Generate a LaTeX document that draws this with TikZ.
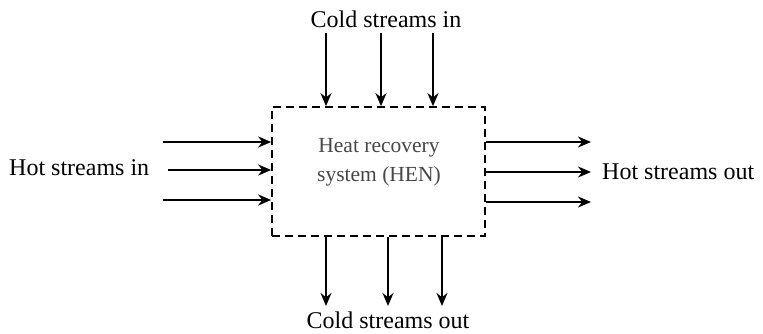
\documentclass[tikz,border=0pt]{standalone}
\usepackage{fontspec}
\setmainfont{Liberation Serif}
\usetikzlibrary{arrows.meta}
\begin{document}
\begin{tikzpicture}[x=1pt,y=-1pt,
  lbl/.style={font=\fontsize{24}{28}\selectfont, inner sep=0pt},
  arr/.style={line width=2.6pt,-{Stealth[length=13pt,width=11pt]}},
  hbox/.style={draw, dashed, dash pattern=on 8pt off 5pt, line width=1.7pt, minimum width=213pt, minimum height=129pt, inner sep=0pt},
  htxt/.style={align=center, text=black!72, font=\fontsize{21.5}{29}\selectfont, inner sep=0pt}]
\useasboundingbox (0,0) rectangle (763,334);
\node[hbox] (hen) at (378.5,171.5) {};
\node[htxt] (hentxt) at (379,162) {Heat recovery\\system (HEN)};
% labels
\node[lbl] (cin) at (386,19) {Cold streams in};
\node[lbl] (cout) at (388,320) {Cold streams out};
\node[lbl, anchor=west] (hin) at (9,168) {Hot streams in};
\node[lbl, anchor=west] (hout) at (602,172) {Hot streams out};
% start/end coordinates
\coordinate (c1) at (326,33);
\coordinate (c2) at (381,33);
\coordinate (c3) at (433,33);
\coordinate (d1) at (326,306);
\coordinate (d2) at (388,306);
\coordinate (d3) at (442,306);
\coordinate (h1) at (163,142);
\coordinate (h2) at (168,170);
\coordinate (h3) at (163,200);
\coordinate (o1) at (591,142);
\coordinate (o2) at (591,172);
\coordinate (o3) at (591,202);
% cold in
\draw[arr] (c1) -- (c1 |- hen.north);
\draw[arr] (c2) -- (c2 |- hen.north);
\draw[arr] (c3) -- (c3 |- hen.north);
% cold out
\draw[arr] (d1 |- hen.south) -- (d1);
\draw[arr] (d2 |- hen.south) -- (d2);
\draw[arr] (d3 |- hen.south) -- (d3);
% hot in
\draw[arr] (h1) -- (h1 -| hen.west);
\draw[arr] (h2) -- (h2 -| hen.west);
\draw[arr] (h3) -- (h3 -| hen.west);
% hot out
\draw[arr] (o1 -| hen.east) -- (o1);
\draw[arr] (o2 -| hen.east) -- (o2);
\draw[arr] (o3 -| hen.east) -- (o3);
\end{tikzpicture}
\end{document}
